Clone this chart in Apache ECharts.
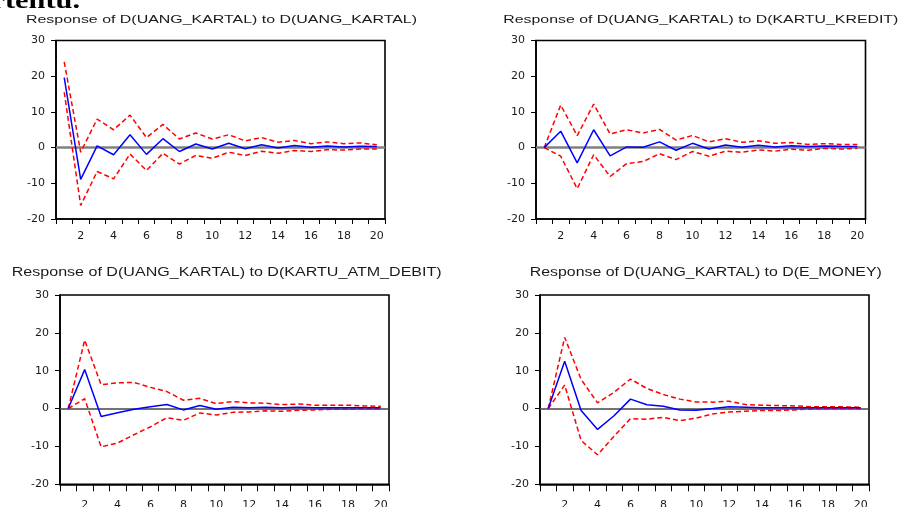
<!DOCTYPE html>
<html>
<head>
<meta charset="utf-8">
<script src="https://cdn.jsdelivr.net/npm/echarts@6/dist/echarts.min.js"></script>
<style>
html,body{margin:0;padding:0;background:#fff;}
#chart{width:901px;height:507px;}
</style>
</head>
<body>
<div id="chart"></div>
<script>
// ---- data ----
const periods = ['1','2','3','4','5','6','7','8','9','10','11','12','13','14','15','16','17','18','19','20'];

const titles = [
  'Response of D(UANG_KARTAL) to D(UANG_KARTAL)',
  'Response of D(UANG_KARTAL) to D(KARTU_KREDIT)',
  'Response of D(UANG_KARTAL) to D(KARTU_ATM_DEBIT)',
  'Response of D(UANG_KARTAL) to D(E_MONEY)'
];

const kartalResp  = [19.6,-8.9,0.5,-2.0,3.6,-1.9,2.5,-1.1,1.0,-0.4,1.2,-0.3,0.8,-0.1,0.6,0.1,0.45,0.2,0.4,0.3];
const kartalUpper = [24.0,-1.3,8.0,5.0,9.1,2.8,6.5,2.4,4.1,2.4,3.6,1.9,2.8,1.5,2.0,1.1,1.6,1.1,1.3,0.8];
const kartalLower = [15.5,-16.2,-6.7,-8.75,-1.8,-6.4,-1.6,-4.6,-2.2,-3.0,-1.3,-2.2,-1.0,-1.6,-0.8,-1.1,-0.6,-0.7,-0.4,-0.4];

const kreditResp  = [0,4.6,-4.3,5.0,-2.3,0.2,0.1,1.6,-0.75,1.2,-0.4,0.75,0.1,0.65,0.2,0.55,0.3,0.45,0.35,0.3];
const kreditUpper = [0,11.9,3.35,12.2,3.8,5.0,4.1,5.1,2.1,3.4,1.6,2.5,1.5,1.9,1.2,1.4,0.9,1.1,0.9,0.9];
const kreditLower = [0,-2.4,-11.5,-2.0,-8.1,-4.5,-3.9,-1.7,-3.35,-1.1,-2.4,-1.0,-1.3,-0.65,-1.0,-0.45,-0.75,-0.2,-0.4,-0.2];

const atmResp  = [0,10.3,-2.1,-1.1,-0.2,0.5,1.1,-0.35,0.8,-0.2,0.35,0.25,0.35,0.2,0.35,0.2,0.25,0.2,0.2,0.2];
const atmUpper = [0,18.1,6.3,6.8,6.9,5.6,4.5,2.2,2.7,1.3,1.85,1.5,1.4,1.05,1.2,0.9,0.9,0.9,0.7,0.6];
const atmLower = [0,2.6,-10.1,-9.1,-6.9,-4.8,-2.4,-3.1,-1.15,-1.7,-1.0,-0.9,-0.6,-0.7,-0.45,-0.35,-0.2,-0.2,-0.1,-0.1];

const emoneyResp  = [0,12.5,-0.5,-5.5,-1.9,2.5,1.0,0.6,-0.35,-0.45,0,0.5,0.35,0.2,0.2,0.2,0.25,0.25,0.2,0.2];
const emoneyUpper = [0,18.8,7.7,1.5,4.3,7.8,5.3,3.7,2.5,1.75,1.7,1.95,1.05,0.9,0.8,0.7,0.5,0.5,0.45,0.35];
const emoneyLower = [0,6.2,-8.45,-12.2,-7.3,-2.65,-2.8,-2.3,-3.2,-2.5,-1.4,-0.9,-0.7,-0.5,-0.5,-0.35,-0.1,0,0,0];

const yMin = -20, yMax = 30, yStep = 10;

// ---- layout ----
const panels = [
  {resp:kartalResp, up:kartalUpper, lo:kartalLower, grid:{left:56, top:40.5, width:329, height:178.5}, tick:5, xMargin:12, zero:{color:'#808080', width:2.5}},
  {resp:kreditResp, up:kreditUpper, lo:kreditLower, grid:{left:536, top:40.5, width:329.5, height:178.5}, tick:5, xMargin:12, zero:{color:'#808080', width:2.5}},
  {resp:atmResp,    up:atmUpper,    lo:atmLower,    grid:{left:60, top:295, width:329, height:189.3}, tick:7, xMargin:15, zero:{color:'#444', width:1.6}},
  {resp:emoneyResp, up:emoneyUpper, lo:emoneyLower, grid:{left:540, top:295, width:329, height:189.3}, tick:7, xMargin:15, zero:{color:'#444', width:1.6}}
];
const titleLayout = [
  {cx:221.5, cy:20,  w:391, size:11.5},
  {cx:700.8, cy:20,  w:395, size:11.5},
  {cx:226.7, cy:273, w:430, size:12.5},
  {cx:705.8, cy:273, w:352, size:12.5}
];

const titleFont = 'Liberation Sans';
const labelFont = 'DejaVu Sans';

function measure(str, font){
  const ctx = document.createElement('canvas').getContext('2d');
  ctx.font = font;
  return ctx.measureText(str).width;
}

const grids = [], xAxes = [], yAxes = [], series = [], graphics = [];

panels.forEach((p, i) => {
  grids.push(Object.assign({show:true, borderColor:'#000', borderWidth:1.6, backgroundColor:'transparent',
    containLabel:false, outerBoundsMode:'none'}, p.grid));
  xAxes.push({
    type:'category', gridIndex:i, data:periods, boundaryGap:true,
    axisLine:{show:true, onZero:false, lineStyle:{color:'#000', width:1.6}},
    axisTick:{show:true, interval:0, alignWithLabel:false, length:p.tick, lineStyle:{color:'#000', width:1}},
    axisLabel:{interval:(idx) => idx % 2 === 1, color:'#1a1a1a', fontFamily:labelFont, fontSize:11, margin:p.xMargin},
    splitLine:{show:false}
  });
  yAxes.push({
    type:'value', gridIndex:i, min:yMin, max:yMax, interval:yStep,
    axisLine:{show:true, lineStyle:{color:'#000', width:1.6}},
    axisTick:{show:true, length:5, lineStyle:{color:'#000', width:1}},
    axisLabel:{color:'#1a1a1a', fontFamily:labelFont, fontSize:11, margin:11},
    splitLine:{show:false}
  });
  const dash = {type:[5,3], color:'#FF0000', width:1.5};
  series.push({
    type:'line', xAxisIndex:i, yAxisIndex:i, data:p.lo, symbol:'none', z:2,
    lineStyle:dash, silent:true, animation:false,
    markLine:{silent:true, symbol:['none','none'], label:{show:false}, z:1,
      lineStyle:{type:'solid', color:p.zero.color, width:p.zero.width}, data:[{yAxis:0}]}
  });
  series.push({type:'line', xAxisIndex:i, yAxisIndex:i, data:p.up, symbol:'none', z:2, lineStyle:dash, silent:true, animation:false});
  series.push({type:'line', xAxisIndex:i, yAxisIndex:i, data:p.resp, symbol:'none', z:3,
    lineStyle:{color:'#0000FF', width:1.5}, silent:true, animation:false});

  const t = titleLayout[i];
  const mw = measure(titles[i], t.size + 'px "' + titleFont + '"');
  graphics.push({
    type:'text', x:t.cx, y:t.cy, scaleX: t.w / mw, silent:true,
    style:{text:titles[i], fontSize:t.size, fontFamily:titleFont, fill:'#1a1a1a', align:'center', verticalAlign:'middle'}
  });
});

// fragment of the surrounding document text, cropped at the top edge
const fragTail = measure('tentu.', 'bold 24px "Liberation Serif"');
graphics.push({
  type:'text', x:80, y:1.5, scaleX: 75 / fragTail, silent:true,
  style:{text:'tertentu.', fontSize:24, fontWeight:'bold', fontFamily:'Liberation Serif', fill:'#000', align:'right', verticalAlign:'middle'}
});

const chart = echarts.init(document.getElementById('chart'), null, {renderer:'canvas'});
chart.setOption({
  animation:false,
  backgroundColor:'#fff',
  grid:grids, xAxis:xAxes, yAxis:yAxes, series:series, graphic:graphics
});
</script>
</body>
</html>
